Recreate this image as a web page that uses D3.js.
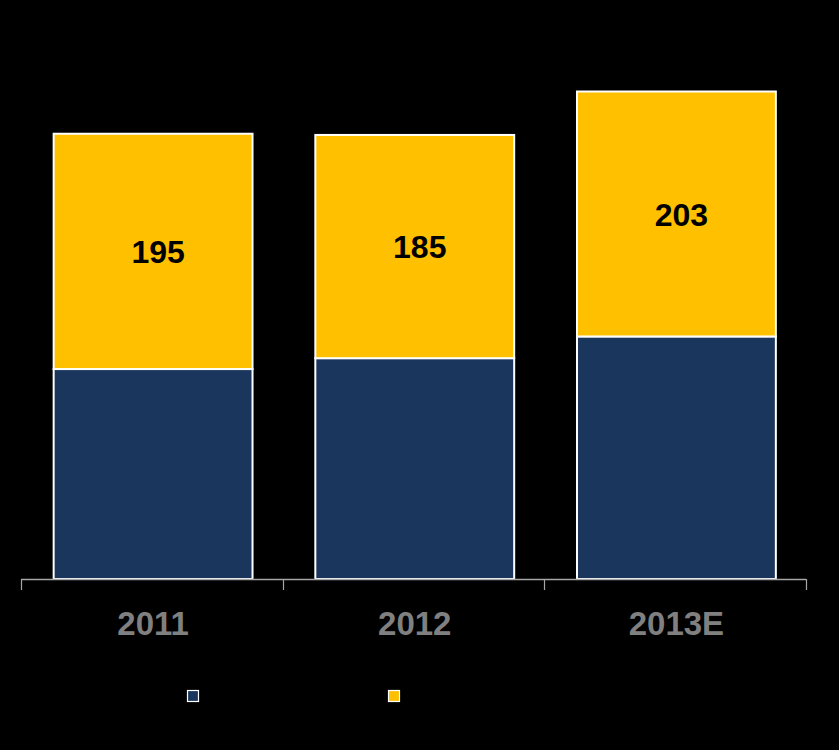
<!DOCTYPE html>
<html><head><meta charset="utf-8">
<script src="https://cdn.jsdelivr.net/npm/d3@7"></script>
<style>html,body{margin:0;padding:0;background:#000;}</style>
</head><body>
<svg id="c" width="839" height="750"></svg>
<script>
const categories = ["2011", "2012", "2013E"];
const bottomValues = [174, 183, 201];
const topValues = [195, 185, 203];
const seriesNames = ["bottom", "top"];
const colors = ["#1b365d", "#ffc000"];

const svg = d3.select("#c");
svg.append("rect").attr("width", 839).attr("height", 750).attr("fill", "#000");

const x = d3.scaleBand().domain(categories).range([21, 806]).paddingInner(0.24).paddingOuter(0.12).align(0.52);
const y = d3.scaleLinear().domain([0, 450]).range([579, 36]);

const rows = categories.map((c, i) => ({cat: c, bottom: bottomValues[i], top: topValues[i]}));
const stack = d3.stack().keys(seriesNames)(rows);

stack.forEach((layer, li) => {
  svg.append("g").selectAll("rect").data(layer).join("rect")
    .attr("x", d => x(d.data.cat))
    .attr("width", x.bandwidth())
    .attr("y", d => y(d[1]))
    .attr("height", d => y(d[0]) - y(d[1]))
    .attr("fill", colors[li])
    .attr("stroke", "#fff")
    .attr("stroke-width", 2);
});

// labels on top segments
svg.append("g").selectAll("text").data(stack[1]).join("text")
  .attr("x", d => x(d.data.cat) + x.bandwidth() / 2 + 5)
  .attr("y", d => (y(d[0]) + y(d[1])) / 2)
  .attr("dy", "0.36em")
  .attr("text-anchor", "middle")
  .attr("font-family", "Liberation Sans, Arial, sans-serif")
  .attr("font-weight", "bold")
  .attr("font-size", 32)
  .attr("fill", "#000")
  .text(d => d.data.top);

// axis
const xAxisScale = d3.scalePoint().domain(d3.range(categories.length + 1)).range([21, 806]);
const ax = svg.append("g");
ax.append("line").attr("x1", 21).attr("x2", 806).attr("y1", 579.5).attr("y2", 579.5)
  .attr("stroke", "#a6a6a6").attr("stroke-width", 1.5);
ax.selectAll("line.t").data(xAxisScale.domain()).join("line").attr("class", "t")
  .attr("x1", d => Math.round(xAxisScale(d)) + 0.5).attr("x2", d => Math.round(xAxisScale(d)) + 0.5)
  .attr("y1", 579).attr("y2", 590).attr("stroke", "#a6a6a6").attr("stroke-width", 1.2);
ax.selectAll("text").data(categories).join("text")
  .attr("x", d => x(d) + x.bandwidth() / 2)
  .attr("y", 623)
  .attr("dy", "0.36em")
  .attr("text-anchor", "middle")
  .attr("font-family", "Liberation Sans, Arial, sans-serif")
  .attr("font-weight", "bold")
  .attr("font-size", 33)
  .attr("fill", "#808080")
  .text(d => d);

// legend
const legendX = [187, 388];
svg.append("g").selectAll("rect").data(seriesNames).join("rect")
  .attr("x", (d, i) => legendX[i] + 0.5)
  .attr("y", 690.5)
  .attr("width", 11).attr("height", 11)
  .attr("fill", (d, i) => colors[i])
  .attr("stroke", "#fff").attr("stroke-width", 1.2);
</script>
</body></html>
